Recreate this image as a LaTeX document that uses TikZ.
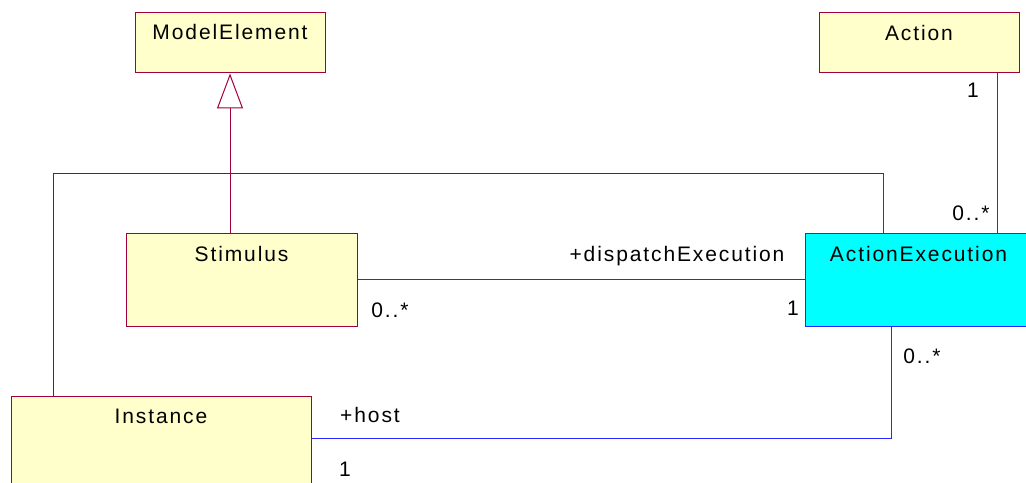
\documentclass[tikz,border=0pt]{standalone}
\usepackage{fontspec}
\setmainfont[LetterSpace=9]{Liberation Sans}
\usetikzlibrary{arrows.meta}
\definecolor{umlred}{RGB}{160,0,60}
\definecolor{umlyellow}{RGB}{255,255,204}
\definecolor{umlblue}{RGB}{40,40,255}
\definecolor{umlcyan}{RGB}{0,255,255}
\newcommand{\umlfont}{\fontsize{21bp}{25bp}\selectfont}
\tikzstyle{umlclass}=[rectangle, draw=umlred, fill=umlyellow, line width=1bp, anchor=north west, inner xsep=0pt, inner ysep=0pt, font=\umlfont]
\tikzstyle{umllabel}=[anchor=base, inner sep=0pt, font=\umlfont]
\tikzstyle{assoc}=[draw=umlblue, line width=1bp]
\tikzstyle{assocred}=[draw=umlred, line width=1bp]
\newcommand{\umlclass}{\node[umlclass]}
\newcommand{\umllabel}{\node[umllabel]}

\begin{document}
\begin{tikzpicture}[x=1bp, y=-1bp]
\useasboundingbox (0,0) rectangle (1026,483);
\umlclass (me) at (134.5,12.5) [minimum width=190bp, text height=27bp, text depth=33bp]{ModelElement};
\umlclass (act) at (818.5,12.5) [minimum width=200bp, text height=28bp, text depth=32bp]{Action};
\umlclass (stim) at (125.5,233.5) [minimum width=231bp, text height=28bp, text depth=64bp]{Stimulus};
\umlclass (ae) at (804.5,233.5) [draw=umlblue, fill=umlcyan, minimum width=227bp, text height=28bp, text depth=64bp]{ActionExecution};
\umlclass (inst) at (10.5,395.5) [minimum width=300bp, text height=27bp, text depth=68bp]{Instance};

\coordinate (aa) at (997.5,72);
\coordinate (top) at (883.5,173.5);
\coordinate (host) at (891.5,438.5);

% generalization
\draw[assocred, -{Triangle[open, length=35bp, width=26bp, line width=1bp]}] (me.south |- stim.north) -- (me.south);

% associations
\draw[assocred] ([xshift=43bp]inst.north west) |- (top);
\draw[assoc] (top) -- (top |- ae.north);
\draw[assoc] (aa |- act.south) -- (aa |- ae.north);
\draw[assoc] (stim) -- (ae);
\draw[assoc] (host |- ae.south) -- (host) -- (host -| inst.east);

\umllabel (m1) at (973,98) {1};
\umllabel (m2) at (971,221) {0..*};
\umllabel (r1) at (677,262) {+dispatchExecution};
\umllabel (m3) at (390,318) {0..*};
\umllabel (m4) at (793,316) {1};
\umllabel (m5) at (922,364) {0..*};
\umllabel (r2) at (370,422) {+host};
\umllabel (m6) at (345,476) {1};
\end{tikzpicture}
\end{document}
